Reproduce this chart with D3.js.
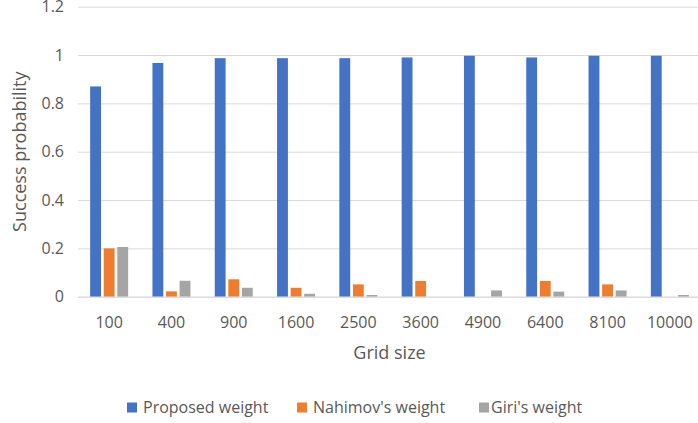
<!DOCTYPE html>
<html>
<head>
<meta charset="utf-8">
<script src="https://cdn.jsdelivr.net/npm/d3@7"></script>
<style>
  body { margin: 0; background: #fff; }
  text { font-family: "Open Sans", sans-serif; fill: #595959; }
</style>
</head>
<body>
<div id="canvas"></div>
<script>
const gridSizes = ["100", "400", "900", "1600", "2500", "3600", "4900", "6400", "8100", "10000"];
const seriesNames = ["Proposed weight", "Nahimov's weight", "Giri's weight"];
const proposed = [0.87, 0.967, 0.987, 0.987, 0.987, 0.99, 0.997, 0.99, 0.997, 0.997];
const nahimov = [0.2, 0.022, 0.072, 0.037, 0.051, 0.065, 0, 0.065, 0.051, 0];
const giri = [0.206, 0.066, 0.037, 0.012, 0.007, 0, 0.026, 0.021, 0.026, 0.007];
const yTicks = [0, 0.2, 0.4, 0.6, 0.8, 1, 1.2];
const colors = ["#4472C4", "#ED7D31", "#A5A5A5"];

const seriesValues = [proposed, nahimov, giri];
const data = gridSizes.map((g, i) => ({
  grid: g,
  values: seriesNames.map((s, j) => ({ key: s, value: seriesValues[j][i] })),
}));

const width = 698;
const height = 423;
const plotLeft = 78;
const plotRight = 701;
const plotTop = 6.7;
const plotBottom = 296.7;

const svg = d3
  .select("#canvas")
  .append("svg")
  .attr("width", width)
  .attr("height", height);

const x0 = d3
  .scaleBand()
  .domain(gridSizes)
  .range([plotLeft, plotRight])
  .paddingInner(0.39)
  .paddingOuter(0.195);

const x1 = d3
  .scaleBand()
  .domain(seriesNames)
  .range([0, x0.bandwidth()])
  .paddingInner(0.2);

const y = d3.scaleLinear().domain([0, 1.2]).range([plotBottom, plotTop]);

// gridlines
svg
  .append("g")
  .attr("class", "grid")
  .attr("transform", "translate(" + plotLeft + ",0)")
  .call(d3.axisLeft(y).tickValues(yTicks).tickSize(-(plotRight - plotLeft)).tickFormat(""))
  .call((g) => g.select(".domain").remove())
  .call((g) => g.selectAll("line").attr("stroke", "#d9d9d9").attr("stroke-width", 1));

// y tick labels
svg
  .append("g")
  .attr("transform", "translate(64,0)")
  .call(d3.axisLeft(y).tickValues(yTicks).tickSize(0).tickPadding(0).tickFormat((d) => d3.format("")(d)))
  .call((g) => g.select(".domain").remove())
  .call((g) =>
    g.selectAll("text").style("font-size", "16px").attr("fill", "#595959").attr("font-family", "Open Sans")
  );

// bars
const groups = svg
  .append("g")
  .selectAll("g")
  .data(data)
  .join("g")
  .attr("transform", (d) => "translate(" + x0(d.grid) + ",0)");

groups
  .selectAll("rect")
  .data((d) => d.values)
  .join("rect")
  .attr("x", (d) => x1(d.key))
  .attr("y", (d) => y(d.value))
  .attr("width", x1.bandwidth())
  .attr("height", (d) => plotBottom - y(d.value))
  .attr("fill", (d, i) => colors[i]);

// x axis
svg
  .append("g")
  .attr("transform", "translate(0," + plotBottom + ")")
  .call(d3.axisBottom(x0).tickSize(0).tickPadding(0))
  .call((g) => g.select(".domain").attr("stroke", "#d9d9d9"))
  .call((g) =>
    g
      .selectAll("text")
      .attr("dy", null)
      .attr("y", 31.5)
      .style("font-size", "16px")
      .attr("fill", "#595959")
      .attr("font-family", "Open Sans")
  );

svg
  .append("text")
  .attr("x", (plotLeft + plotRight) / 2)
  .attr("y", 358.5)
  .attr("text-anchor", "middle")
  .style("font-size", "18px")
  .text("Grid size");

svg
  .append("text")
  .attr("transform", "translate(25.5," + (plotTop + plotBottom) / 2 + ") rotate(-90)")
  .attr("text-anchor", "middle")
  .style("font-size", "18px")
  .text("Success probability");

// legend
const legendX = [127, 297, 479];
const legend = svg.append("g");
seriesNames.forEach((s, i) => {
  const item = legend.append("g").attr("transform", "translate(" + legendX[i] + ",0)");
  item
    .append("rect")
    .attr("x", 0)
    .attr("y", 402.5)
    .attr("width", 10)
    .attr("height", 10)
    .attr("fill", colors[i]);
  item
    .append("text")
    .attr("x", i == 2 ? 12 : 16)
    .attr("y", 413)
    .style("font-size", "16px")
    .text(s);
});
</script>
</body>
</html>
